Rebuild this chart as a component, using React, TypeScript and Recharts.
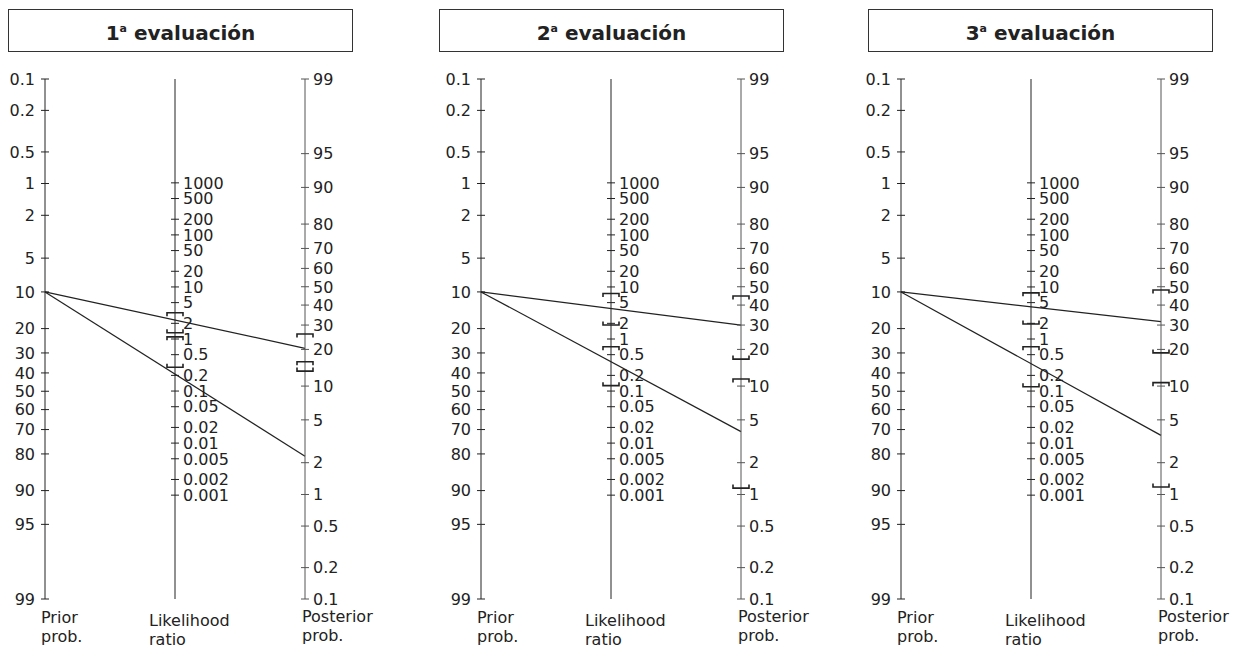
import { ComposedChart, Line, ReferenceLine, Scatter, XAxis, YAxis } from 'recharts';

// tick labels of the three nomogram scales
const PRIOR_TICKS = [0.1, 0.2, 0.5, 1, 2, 5, 10, 20, 30, 40, 50, 60, 70, 80, 90, 95, 99];
const LR_TICKS = [1000, 500, 200, 100, 50, 20, 10, 5, 2, 1, 0.5, 0.2, 0.1, 0.05, 0.02, 0.01, 0.005, 0.002, 0.001];
const POST_TICKS = [99, 95, 90, 80, 70, 60, 50, 40, 30, 20, 10, 5, 2, 1, 0.5, 0.2, 0.1];

// one entry per evaluation
const EVALUATIONS = ['1', '2', '3'];
const PRIOR = [10, 10, 10];
const POSTERIOR_POS = [20.4, 30, 31.6];
const POSTERIOR_NEG = [2.3, 3.9, 3.6];

// confidence interval caps (upper bounds hook down, lower bounds hook up)
const LR_UPPER = [[3.2, 1.1], [7.5, 0.71], [7.7, 0.71]];
const LR_LOWER = [[1.32, 0.286], [1.86, 0.127], [1.94, 0.121]];
const POST_UPPER = [[26, 16], [44.9, 11.5], [48.2, 10.7]];
const POST_LOWER = [[13.4], [16.8, 1.15], [18.8, 1.18]];

const CHART_LEFT = [0, 436, 856];
const BOX_LEFT = [8, 439, 868];

const logit = (pct: number) => Math.log(pct / (100 - pct));
const LO = logit(0.1);
const HI = logit(99);
const SUM = LO + HI;
const priorY = (p: number) => logit(p);
const postY = (p: number) => SUM - logit(p);
const lrY = (lr: number) => (SUM - Math.log(lr)) / 2;
const fmt = (v: number) => String(Number(v.toPrecision(3)));

const FONT = "'DejaVu Sans', sans-serif";
const INK = '#222';
const GREY = '#555';

const LeftTick = (props: any) => {
  const { x, y, payload } = props;
  const label = fmt(100 / (1 + Math.exp(-payload.value)));
  return (
    <g>
      <line x1={x - 4} x2={x + 4} y1={y} y2={y} stroke={INK} />
      <text x={x - 10} y={y} dy="0.36em" textAnchor="end" fontSize={16} fontFamily={FONT} fill={INK}>
        {label}
      </text>
    </g>
  );
};

const RightTick = (props: any) => {
  const { x, y, payload } = props;
  const label = fmt(100 / (1 + Math.exp(-(SUM - payload.value))));
  return (
    <g>
      <line x1={x - 4} x2={x + 4} y1={y} y2={y} stroke={GREY} />
      <text x={x + 8} y={y} dy="0.36em" textAnchor="start" fontSize={16} fontFamily={FONT} fill={INK}>
        {label}
      </text>
    </g>
  );
};

const MidTick = (props: any) => {
  const { cx, cy, payload } = props;
  return (
    <g>
      <line x1={cx - 4} x2={cx + 4} y1={cy} y2={cy} stroke={INK} />
      <text x={cx + 8} y={cy} dy="0.36em" fontSize={16} fontFamily={FONT} fill={INK}>
        {payload.label}
      </text>
    </g>
  );
};

const Cap = (props: any) => {
  const { cx, cy, payload } = props;
  const h = payload.dir === 'up' ? 3.5 : -3.5;
  return (
    <path
      d={`M${cx - 8},${cy + h}L${cx - 8},${cy}L${cx + 8},${cy}L${cx + 8},${cy + h}`}
      fill="none"
      stroke={INK}
      strokeWidth={1.6}
    />
  );
};

function Panel({ i }: { i: number }) {
  const lrTicks = LR_TICKS.map((v) => ({ x: 1, y: lrY(v), label: String(v) }));
  const lineA = [
    { x: 0, y: priorY(PRIOR[i]) },
    { x: 2, y: postY(POSTERIOR_POS[i]) },
  ];
  const lineB = [
    { x: 0, y: priorY(PRIOR[i]) },
    { x: 2, y: postY(POSTERIOR_NEG[i]) },
  ];
  const midCaps = [
    ...LR_UPPER[i].map((v) => ({ x: 1, y: lrY(v), dir: 'up' })),
    ...LR_LOWER[i].map((v) => ({ x: 1, y: lrY(v), dir: 'down' })),
  ];
  const postCaps = [
    ...POST_UPPER[i].map((v) => ({ x: 2, y: postY(v), dir: 'up' })),
    ...POST_LOWER[i].map((v) => ({ x: 2, y: postY(v), dir: 'down' })),
  ];

  return (
    <div style={{ position: 'absolute', left: CHART_LEFT[i], top: 60 }}>
      <ComposedChart width={365} height={549} margin={{ top: 19, right: 0, bottom: 10, left: 0 }}>
        <XAxis
          type="number"
          dataKey="x"
          domain={[0, 2]}
          height={0}
          tick={false}
          tickLine={false}
          axisLine={{ stroke: INK }}
        />
        <XAxis
          xAxisId="top"
          orientation="top"
          type="number"
          dataKey="x"
          domain={[0, 2]}
          height={0}
          tick={false}
          tickLine={false}
          axisLine={{ stroke: INK }}
        />
        <YAxis
          yAxisId="left"
          type="number"
          dataKey="y"
          domain={[LO, HI]}
          reversed
          width={45}
          ticks={PRIOR_TICKS.map(priorY)}
          interval={0}
          tickSize={0}
          tickMargin={0}
          tickLine={false}
          tick={<LeftTick />}
          axisLine={{ stroke: INK }}
        />
        <YAxis
          yAxisId="right"
          orientation="right"
          type="number"
          dataKey="y"
          domain={[LO, HI]}
          reversed
          width={60}
          ticks={POST_TICKS.map(postY)}
          interval={0}
          tickSize={0}
          tickMargin={0}
          tickLine={false}
          tick={<RightTick />}
          axisLine={{ stroke: GREY }}
        />
        <ReferenceLine yAxisId="left" x={1} stroke={INK} />
        <Scatter yAxisId="left" data={lrTicks} dataKey="y" shape={<MidTick />} isAnimationActive={false} />
        <Scatter yAxisId="left" data={midCaps} dataKey="y" shape={<Cap />} isAnimationActive={false} />
        <Scatter yAxisId="right" data={postCaps} dataKey="y" shape={<Cap />} isAnimationActive={false} />
        <Line
          yAxisId="left"
          data={lineA}
          dataKey="y"
          type="linear"
          stroke={INK}
          strokeWidth={1.2}
          dot={false}
          isAnimationActive={false}
        />
        <Line
          yAxisId="left"
          data={lineB}
          dataKey="y"
          type="linear"
          stroke={INK}
          strokeWidth={1.2}
          dot={false}
          isAnimationActive={false}
        />
      </ComposedChart>
    </div>
  );
}

const labelStyle = {
  position: 'absolute' as const,
  fontFamily: FONT,
  fontSize: 16,
  lineHeight: '19px',
  color: INK,
};

export default function App() {
  return (
    <div style={{ position: 'absolute', left: 0, top: 0, width: 1237, height: 649, background: '#fff' }}>
      {EVALUATIONS.map((n, i) => {
        const axisX = CHART_LEFT[i] + 45;
        return (
          <div key={n}>
            <div
              style={{
                position: 'absolute',
                left: BOX_LEFT[i],
                top: 9,
                width: 345,
                height: 43,
                boxSizing: 'border-box',
                border: '1px solid #333',
                display: 'flex',
                alignItems: 'center',
                justifyContent: 'center',
                paddingTop: 4,
                fontFamily: FONT,
                fontWeight: 'bold',
                fontSize: 20,
                color: INK,
              }}
            >
              <span>
                {n}
                <sup style={{ fontSize: 11, verticalAlign: 'baseline', position: 'relative', top: -8 }}>a</sup>{' '}
                evaluación
              </span>
            </div>
            <Panel i={i} />
            <div style={{ ...labelStyle, left: axisX - 4, top: 608 }}>
              Prior
              <br />
              prob.
            </div>
            <div style={{ ...labelStyle, left: axisX + 104, top: 611 }}>
              Likelihood
              <br />
              ratio
            </div>
            <div style={{ ...labelStyle, left: axisX + 257, top: 607 }}>
              Posterior
              <br />
              prob.
            </div>
          </div>
        );
      })}
    </div>
  );
}
